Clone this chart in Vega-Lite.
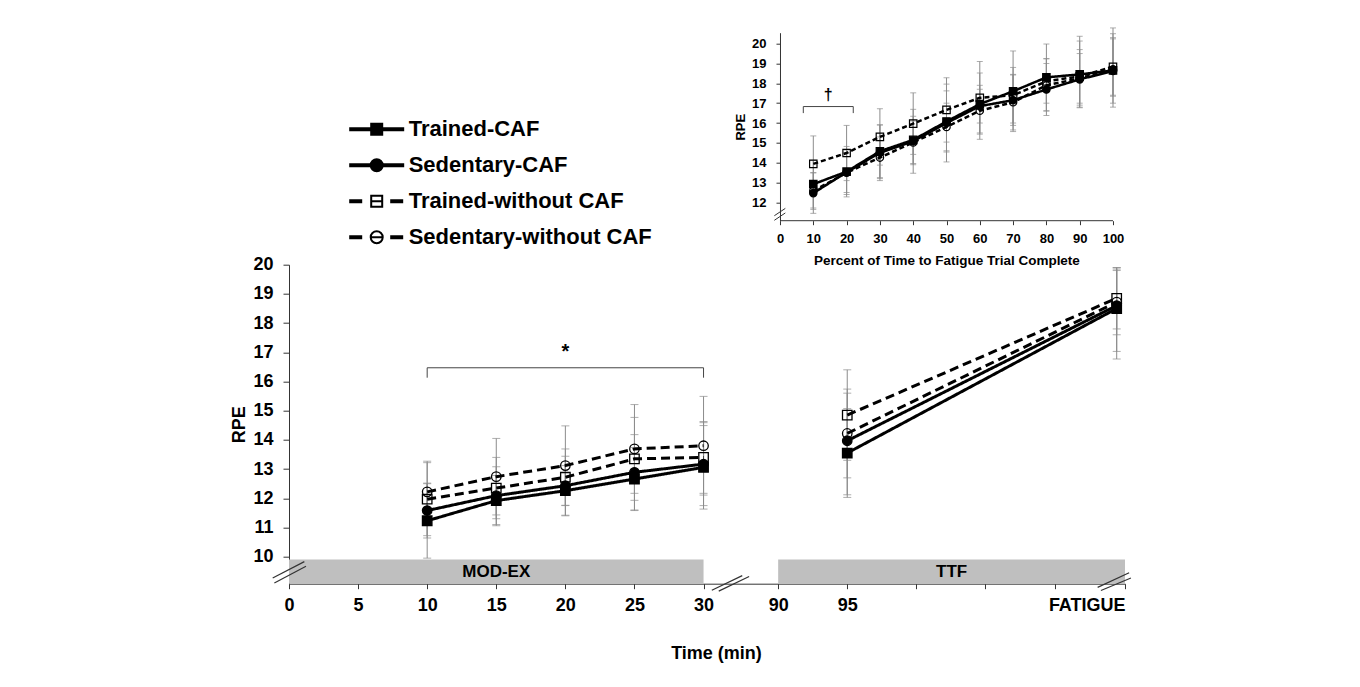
{
  "$schema": "https://vega.github.io/schema/vega-lite/v6.json",
  "padding": {"left": 230, "top": 26.7, "right": 5, "bottom": 5},
  "background": "white",
  "config": {
    "view": {"stroke": null},
    "axis": {"domainColor": "#333333", "tickColor": "#333333", "labelColor": "#000000", "titleColor": "#000000", "labelFont": "Liberation Sans", "titleFont": "Liberation Sans", "labelFontWeight": "bold", "titleFontWeight": "bold", "grid": false, "domainWidth": 1, "tickWidth": 1},
    "text": {"font": "Liberation Sans"}
  },
  "datasets": {
    "series": [
      {"series": "Trained-CAF"}, {"series": "Sedentary-CAF"}, {"series": "Trained-without CAF"}, {"series": "Sedentary-without CAF"}
    ],
    "bands": [
      {"label": "MOD-EX", "start": 0, "end": 30},
      {"label": "TTF", "start": 35.4, "end": 60.5}
    ],
    "main": [
      {"series": "Trained-CAF", "phase": "MOD-EX", "time": "10", "t": 10, "rpe": 11.23, "lo": 9.95, "hi": 12.5},
      {"series": "Trained-CAF", "phase": "MOD-EX", "time": "15", "t": 15, "rpe": 11.92, "lo": 11.06, "hi": 12.78},
      {"series": "Trained-CAF", "phase": "MOD-EX", "time": "20", "t": 20, "rpe": 12.26, "lo": 11.4, "hi": 13.12},
      {"series": "Trained-CAF", "phase": "MOD-EX", "time": "25", "t": 25, "rpe": 12.66, "lo": 11.58, "hi": 13.74},
      {"series": "Trained-CAF", "phase": "MOD-EX", "time": "30", "t": 30, "rpe": 13.06, "lo": 11.63, "hi": 14.49},
      {"series": "Trained-CAF", "phase": "TTF", "time": "95", "t": 40.4, "rpe": 13.55, "lo": 12.03, "hi": 15.07},
      {"series": "Trained-CAF", "phase": "TTF", "time": "FATIGUE", "t": 59.9, "rpe": 18.5, "lo": 16.77, "hi": 19.9},
      {"series": "Sedentary-CAF", "phase": "MOD-EX", "time": "10", "t": 10, "rpe": 11.58, "lo": 10.64, "hi": 12.52},
      {"series": "Sedentary-CAF", "phase": "MOD-EX", "time": "15", "t": 15, "rpe": 12.09, "lo": 11.1, "hi": 13.08},
      {"series": "Sedentary-CAF", "phase": "MOD-EX", "time": "20", "t": 20, "rpe": 12.43, "lo": 11.42, "hi": 13.44},
      {"series": "Sedentary-CAF", "phase": "MOD-EX", "time": "25", "t": 25, "rpe": 12.89, "lo": 11.6, "hi": 14.18},
      {"series": "Sedentary-CAF", "phase": "MOD-EX", "time": "30", "t": 30, "rpe": 13.17, "lo": 11.75, "hi": 14.59},
      {"series": "Sedentary-CAF", "phase": "TTF", "time": "95", "t": 40.4, "rpe": 13.97, "lo": 12.12, "hi": 15.6},
      {"series": "Sedentary-CAF", "phase": "TTF", "time": "FATIGUE", "t": 59.9, "rpe": 18.6, "lo": 17.03, "hi": 19.8},
      {"series": "Trained-without CAF", "phase": "MOD-EX", "time": "10", "t": 10, "rpe": 11.97, "lo": 10.72, "hi": 13.22},
      {"series": "Trained-without CAF", "phase": "MOD-EX", "time": "15", "t": 15, "rpe": 12.35, "lo": 11.3, "hi": 13.4},
      {"series": "Trained-without CAF", "phase": "MOD-EX", "time": "20", "t": 20, "rpe": 12.72, "lo": 11.75, "hi": 13.69},
      {"series": "Trained-without CAF", "phase": "MOD-EX", "time": "25", "t": 25, "rpe": 13.35, "lo": 11.93, "hi": 14.77},
      {"series": "Trained-without CAF", "phase": "MOD-EX", "time": "30", "t": 30, "rpe": 13.4, "lo": 12.17, "hi": 14.63},
      {"series": "Trained-without CAF", "phase": "TTF", "time": "95", "t": 40.4, "rpe": 14.85, "lo": 13.3, "hi": 16.4},
      {"series": "Trained-without CAF", "phase": "TTF", "time": "FATIGUE", "t": 59.9, "rpe": 18.85, "lo": 17.8, "hi": 19.9},
      {"series": "Sedentary-without CAF", "phase": "MOD-EX", "time": "10", "t": 10, "rpe": 12.22, "lo": 11.2, "hi": 13.27},
      {"series": "Sedentary-without CAF", "phase": "MOD-EX", "time": "15", "t": 15, "rpe": 12.74, "lo": 11.43, "hi": 14.05},
      {"series": "Sedentary-without CAF", "phase": "MOD-EX", "time": "20", "t": 20, "rpe": 13.12, "lo": 11.76, "hi": 14.48},
      {"series": "Sedentary-without CAF", "phase": "MOD-EX", "time": "25", "t": 25, "rpe": 13.69, "lo": 12.17, "hi": 15.21},
      {"series": "Sedentary-without CAF", "phase": "MOD-EX", "time": "30", "t": 30, "rpe": 13.8, "lo": 12.11, "hi": 15.49},
      {"series": "Sedentary-without CAF", "phase": "TTF", "time": "95", "t": 40.4, "rpe": 14.22, "lo": 12.7, "hi": 15.74},
      {"series": "Sedentary-without CAF", "phase": "TTF", "time": "FATIGUE", "t": 59.9, "rpe": 18.72, "lo": 17.6, "hi": 19.85}
    ],
    "inset": [
      {"series": "Trained-CAF", "pct": 10, "rpe": 12.92, "lo": 11.72, "hi": 14.12},
      {"series": "Trained-CAF", "pct": 20, "rpe": 13.55, "lo": 12.28, "hi": 14.82},
      {"series": "Trained-CAF", "pct": 30, "rpe": 14.58, "lo": 13.25, "hi": 15.91},
      {"series": "Trained-CAF", "pct": 40, "rpe": 15.15, "lo": 13.96, "hi": 16.34},
      {"series": "Trained-CAF", "pct": 50, "rpe": 16.08, "lo": 14.54, "hi": 17.62},
      {"series": "Trained-CAF", "pct": 60, "rpe": 16.95, "lo": 16.0, "hi": 17.9},
      {"series": "Trained-CAF", "pct": 70, "rpe": 17.6, "lo": 15.57, "hi": 19.63},
      {"series": "Trained-CAF", "pct": 80, "rpe": 18.3, "lo": 16.62, "hi": 19.98},
      {"series": "Trained-CAF", "pct": 90, "rpe": 18.45, "lo": 16.77, "hi": 20.13},
      {"series": "Trained-CAF", "pct": 100, "rpe": 18.65, "lo": 16.8, "hi": 20.5},
      {"series": "Sedentary-CAF", "pct": 10, "rpe": 12.47, "lo": 11.45, "hi": 13.49},
      {"series": "Sedentary-CAF", "pct": 20, "rpe": 13.52, "lo": 12.4, "hi": 14.64},
      {"series": "Sedentary-CAF", "pct": 30, "rpe": 14.5, "lo": 13.1, "hi": 15.9},
      {"series": "Sedentary-CAF", "pct": 40, "rpe": 15.08, "lo": 13.47, "hi": 16.69},
      {"series": "Sedentary-CAF", "pct": 50, "rpe": 16.0, "lo": 14.04, "hi": 17.96},
      {"series": "Sedentary-CAF", "pct": 60, "rpe": 16.85, "lo": 15.18, "hi": 18.52},
      {"series": "Sedentary-CAF", "pct": 70, "rpe": 17.15, "lo": 15.88, "hi": 18.42},
      {"series": "Sedentary-CAF", "pct": 80, "rpe": 17.69, "lo": 16.38, "hi": 19.0},
      {"series": "Sedentary-CAF", "pct": 90, "rpe": 18.2, "lo": 16.9, "hi": 19.5},
      {"series": "Sedentary-CAF", "pct": 100, "rpe": 18.62, "lo": 17.0, "hi": 20.24},
      {"series": "Trained-without CAF", "pct": 10, "rpe": 13.94, "lo": 12.53, "hi": 15.35},
      {"series": "Trained-without CAF", "pct": 20, "rpe": 14.49, "lo": 13.1, "hi": 15.88},
      {"series": "Trained-without CAF", "pct": 30, "rpe": 15.3, "lo": 13.88, "hi": 16.72},
      {"series": "Trained-without CAF", "pct": 40, "rpe": 15.97, "lo": 14.42, "hi": 17.52},
      {"series": "Trained-without CAF", "pct": 50, "rpe": 16.66, "lo": 15.04, "hi": 18.28},
      {"series": "Trained-without CAF", "pct": 60, "rpe": 17.27, "lo": 15.44, "hi": 19.1},
      {"series": "Trained-without CAF", "pct": 70, "rpe": 17.4, "lo": 16.0, "hi": 18.8},
      {"series": "Trained-without CAF", "pct": 80, "rpe": 18.1, "lo": 17.0, "hi": 19.24},
      {"series": "Trained-without CAF", "pct": 90, "rpe": 18.35, "lo": 17.0, "hi": 19.7},
      {"series": "Trained-without CAF", "pct": 100, "rpe": 18.83, "lo": 17.35, "hi": 20.3},
      {"series": "Sedentary-without CAF", "pct": 10, "rpe": 12.58, "lo": 11.65, "hi": 13.5},
      {"series": "Sedentary-without CAF", "pct": 20, "rpe": 13.5, "lo": 12.5, "hi": 14.5},
      {"series": "Sedentary-without CAF", "pct": 30, "rpe": 14.26, "lo": 13.2, "hi": 15.3},
      {"series": "Sedentary-without CAF", "pct": 40, "rpe": 15.02, "lo": 13.9, "hi": 16.1},
      {"series": "Sedentary-without CAF", "pct": 50, "rpe": 15.8, "lo": 14.6, "hi": 17.0},
      {"series": "Sedentary-without CAF", "pct": 60, "rpe": 16.62, "lo": 15.5, "hi": 17.7},
      {"series": "Sedentary-without CAF", "pct": 70, "rpe": 17.05, "lo": 15.65, "hi": 18.45},
      {"series": "Sedentary-without CAF", "pct": 80, "rpe": 17.9, "lo": 16.6, "hi": 19.24},
      {"series": "Sedentary-without CAF", "pct": 90, "rpe": 18.25, "lo": 16.8, "hi": 20.37},
      {"series": "Sedentary-without CAF", "pct": 100, "rpe": 18.7, "lo": 17.4, "hi": 20.79}
    ]
  },
  "resolve": {
    "scale": {"shape": "independent", "fill": "independent", "strokeDash": "independent"},
    "legend": {"shape": "independent", "fill": "independent", "strokeDash": "independent"}
  },
  "bounds": "flush",
  "spacing": 44,
  "vconcat": [
    {
      "width": 824,
      "height": 188,
      "resolve": {
        "scale": {"shape": "independent", "fill": "independent"},
        "legend": {"shape": "independent", "fill": "independent"}
      },
      "layer": [
        {
          "data": {"values": [{}]},
          "mark": {"type": "rule", "color": "#333333", "strokeWidth": 1},
          "encoding": {
            "x": {
              "datum": 0, "type": "quantitative", "title": "Percent of Time to Fatigue Trial Complete",
              "scale": {"domain": [-147.45, 100], "nice": false, "zero": false},
              "axis": {"values": [0, 10, 20, 30, 40, 50, 60, 70, 80, 90, 100], "domain": false, "tickSize": 4, "labelPadding": 8, "labelFontSize": 13, "titleFontSize": 13.5, "titlePadding": 8, "titleX": 657.5, "labelFlush": false, "labelOverlap": false}
            },
            "x2": {"datum": 100},
            "y": {
              "datum": 11.08, "type": "quantitative", "title": "RPE",
              "scale": {"domain": [11.08, 20.55], "nice": false, "zero": false},
              "axis": {"values": [12, 13, 14, 15, 16, 17, 18, 19, 20], "tickCount": 9, "offset": -491, "tickSize": 4, "labelPadding": 10, "labelFontSize": 13, "titleFontSize": 13, "titlePadding": 4, "labelOverlap": false}
            }
          }
        },
        {
          "data": {"name": "inset"},
          "mark": {"type": "rule", "color": "#8c8c8c", "strokeWidth": 1},
          "encoding": {
            "x": {"field": "pct", "type": "quantitative", "title": "Percent of Time to Fatigue Trial Complete"},
            "y": {"field": "lo", "type": "quantitative", "title": "RPE"},
            "y2": {"field": "hi"}
          }
        },
        {
          "data": {"name": "inset"},
          "transform": [{"fold": ["lo", "hi"], "as": ["bound", "val"]}],
          "mark": {"type": "tick", "orient": "horizontal", "size": 6, "thickness": 1, "color": "#8c8c8c"},
          "encoding": {
            "x": {"field": "pct", "type": "quantitative", "title": "Percent of Time to Fatigue Trial Complete"},
            "y": {"field": "val", "type": "quantitative", "title": "RPE"}
          }
        },
        {
          "data": {"name": "inset"},
          "mark": {"type": "line", "color": "#000000", "strokeWidth": 2.5},
          "encoding": {
            "x": {"field": "pct", "type": "quantitative", "title": "Percent of Time to Fatigue Trial Complete"},
            "y": {"field": "rpe", "type": "quantitative", "title": "RPE"},
            "strokeDash": {
              "field": "series", "type": "nominal",
              "scale": {"domain": ["Trained-CAF", "Sedentary-CAF", "Trained-without CAF", "Sedentary-without CAF"], "range": [[1, 0], [1, 0], [5, 3], [5, 3]]},
              "legend": null
            }
          }
        },
        {
          "data": {"name": "inset"},
          "mark": {"type": "point", "filled": true, "size": 55, "stroke": "#000000", "strokeWidth": 1.2, "opacity": 1},
          "encoding": {
            "x": {"field": "pct", "type": "quantitative", "title": "Percent of Time to Fatigue Trial Complete"},
            "y": {"field": "rpe", "type": "quantitative", "title": "RPE"},
            "shape": {
              "field": "series", "type": "nominal",
              "scale": {"domain": ["Trained-CAF", "Sedentary-CAF", "Trained-without CAF", "Sedentary-without CAF"], "range": ["square", "circle", "square", "circle"]},
              "legend": null
            },
            "fill": {
              "field": "series", "type": "nominal",
              "scale": {"domain": ["Trained-CAF", "Sedentary-CAF", "Trained-without CAF", "Sedentary-without CAF"], "range": ["#000000", "#000000", "transparent", "transparent"]},
              "legend": null
            }
          }
        },
        {
          "data": {"values": [{"from": 7, "to": 22, "sig": "†"}]},
          "mark": {"type": "rule", "color": "#444444", "strokeWidth": 1},
          "encoding": {"x": {"field": "from", "type": "quantitative"}, "x2": {"field": "to"}, "y": {"datum": 16.83}}
        },
        {
          "data": {"values": [{"from": 7, "to": 22, "sig": "†"}]},
          "mark": {"type": "rule", "color": "#444444", "strokeWidth": 1},
          "encoding": {"x": {"field": "from", "type": "quantitative"}, "y": {"datum": 16.5}, "y2": {"datum": 16.83}}
        },
        {
          "data": {"values": [{"from": 7, "to": 22, "sig": "†"}]},
          "mark": {"type": "rule", "color": "#444444", "strokeWidth": 1},
          "encoding": {"x": {"field": "to", "type": "quantitative"}, "y": {"datum": 16.5}, "y2": {"datum": 16.83}}
        },
        {
          "data": {"values": [{"from": 7, "to": 22, "sig": "†"}]},
          "transform": [{"fold": ["from", "to"], "as": ["edge", "v"]}],
          "mark": {"type": "text", "fontSize": 16, "fontWeight": "bold", "color": "#000000", "baseline": "middle"},
          "encoding": {"x": {"aggregate": "mean", "field": "v", "type": "quantitative"}, "y": {"datum": 17.4}, "text": {"field": "sig", "type": "nominal"}}
        },
        {
          "data": {"values": [{}]},
          "mark": {"type": "rule", "color": "#333333", "strokeWidth": 1},
          "encoding": {"x": {"datum": -1.7}, "x2": {"datum": 1.6}, "y": {"datum": 11.33}, "y2": {"datum": 11.7}}
        },
        {
          "data": {"values": [{}]},
          "mark": {"type": "rule", "color": "#333333", "strokeWidth": 1},
          "encoding": {"x": {"datum": -1.7}, "x2": {"datum": 1.6}, "y": {"datum": 11.1}, "y2": {"datum": 11.47}}
        },
        {
          "data": {"name": "series"},
          "mark": {"type": "point", "filled": true, "opacity": 0},
          "encoding": {
            "shape": {
              "field": "series",
              "type": "nominal",
              "scale": {
                "domain": ["Trained-CAF", "Sedentary-CAF", "Trained-without CAF", "Sedentary-without CAF"],
                "range": [
                  "M-2.65,-0.1H2.65V0.1H-2.65Z M-0.55,-0.55H0.55V0.55H-0.55Z",
                  "M-2.65,-0.1H2.65V0.1H-2.65Z M-0.6,0A0.6,0.6,0,1,0,0.6,0A0.6,0.6,0,1,0,-0.6,0Z",
                  "M-2.65,-0.1H-1.55V0.1H-2.65Z M1.45,-0.1H2.55V0.1H1.45Z M-0.55,-0.55H0.55V0.55H-0.55Z M-0.55,0H0.55",
                  "M-2.65,-0.1H-1.55V0.1H-2.65Z M1.45,-0.1H2.55V0.1H1.45Z M-0.6,0A0.6,0.6,0,1,0,0.6,0A0.6,0.6,0,1,0,-0.6,0Z M-0.6,0H0.6"
                ]
              },
              "legend": {
                "orient": "none",
                "legendX": 76.7,
                "legendY": 85.5,
                "title": null,
                "padding": 0,
                "labelFont": "Liberation Sans",
                "labelFontSize": 22,
                "labelFontWeight": "bold",
                "labelColor": "#000000",
                "labelOffset": 21,
                "labelLimit": 500,
                "rowPadding": 14,
                "symbolSize": 400,
                "symbolStrokeWidth": 2,
                "symbolStrokeColor": "#000000",
                "symbolOpacity": 1,
                "encode": {
                  "symbols": {
                    "update": {
                      "stroke": {"value": "#000000"},
                      "strokeWidth": {"value": 2},
                      "opacity": {"value": 1}
                    }
                  }
                }
              }
            },
            "fill": {
              "field": "series",
              "type": "nominal",
              "scale": {"domain": ["Trained-CAF", "Sedentary-CAF", "Trained-without CAF", "Sedentary-without CAF"], "range": ["#000000", "#000000", "transparent", "transparent"]},
              "legend": {
                "orient": "none",
                "legendX": 76.7,
                "legendY": 85.5,
                "title": null,
                "padding": 0,
                "labelFont": "Liberation Sans",
                "labelFontSize": 22,
                "labelFontWeight": "bold",
                "labelColor": "#000000",
                "labelOffset": 21,
                "labelLimit": 500,
                "rowPadding": 14,
                "symbolSize": 400,
                "symbolStrokeWidth": 2,
                "symbolStrokeColor": "#000000",
                "symbolOpacity": 1,
                "encode": {
                  "symbols": {
                    "update": {
                      "stroke": {"value": "#000000"},
                      "strokeWidth": {"value": 2},
                      "opacity": {"value": 1}
                    }
                  }
                }
              }
            }
          }
        }
      ]
    },
    {
      "width": 836,
      "height": 319,
      "layer": [
        {
          "data": {"name": "bands"},
          "mark": {"type": "rect", "color": "#bfbfbf"},
          "encoding": {
            "x": {
              "field": "start", "type": "quantitative", "title": "Time (min)",
              "scale": {"domain": [0, 60.5], "nice": false, "zero": false},
              "axis": {
                "values": [0, 5, 10, 15, 20, 25, 30, 35.4, 40.4, 45.4, 50.4, 55.4, 60.5],
                "labelExpr": "datum.value <= 30 ? datum.label : (datum.value == 35.4 ? '90' : (datum.value == 40.4 ? '95' : (datum.value > 60 ? 'FATIGUE' : '')))",
                "labelAlign": {"condition": {"test": "datum.value > 60", "value": "right"}, "value": "center"},
                "tickSize": 5, "labelPadding": 8, "labelFontSize": 18, "titleFontSize": 18, "titlePadding": 30, "titleX": 427,
                "labelFlush": false, "labelOverlap": false, "labelBound": false
              }
            },
            "x2": {"field": "end"},
            "y": {
              "datum": 9.9, "type": "quantitative", "title": "RPE",
              "scale": {"domain": [9.075, 20], "nice": false, "zero": false},
              "axis": {"values": [10, 11, 12, 13, 14, 15, 16, 17, 18, 19, 20], "tickCount": 11, "tickSize": 6, "labelPadding": 10, "labelFontSize": 18, "titleFontSize": 18, "titlePadding": 4, "labelOverlap": false}
            },
            "y2": {"datum": 9.075}
          }
        },
        {
          "data": {"name": "bands"},
          "transform": [{"fold": ["start", "end"], "as": ["edge", "v"]}],
          "mark": {"type": "text", "fontSize": 17, "fontWeight": "bold", "color": "#000000", "baseline": "middle"},
          "encoding": {
            "x": {"aggregate": "mean", "field": "v", "type": "quantitative", "title": "Time (min)"},
            "y": {"datum": 9.49, "type": "quantitative", "title": "RPE"},
            "text": {"field": "label", "type": "nominal"}
          }
        },
        {
          "data": {"name": "main"},
          "mark": {"type": "rule", "color": "#8c8c8c", "strokeWidth": 1},
          "encoding": {
            "x": {"field": "t", "type": "quantitative", "title": "Time (min)"},
            "y": {"field": "lo", "type": "quantitative", "title": "RPE"},
            "y2": {"field": "hi"}
          }
        },
        {
          "data": {"name": "main"},
          "transform": [{"fold": ["lo", "hi"], "as": ["bound", "val"]}],
          "mark": {"type": "tick", "orient": "horizontal", "size": 8, "thickness": 1, "color": "#8c8c8c"},
          "encoding": {
            "x": {"field": "t", "type": "quantitative", "title": "Time (min)"},
            "y": {"field": "val", "type": "quantitative", "title": "RPE"}
          }
        },
        {
          "data": {"name": "main"},
          "mark": {"type": "line", "color": "#000000", "strokeWidth": 3},
          "encoding": {
            "x": {"field": "t", "type": "quantitative", "title": "Time (min)"},
            "y": {"field": "rpe", "type": "quantitative", "title": "RPE"},
            "strokeDash": {
              "field": "series", "type": "nominal",
              "scale": {"domain": ["Trained-CAF", "Sedentary-CAF", "Trained-without CAF", "Sedentary-without CAF"], "range": [[1, 0], [1, 0], [9, 5], [9, 5]]},
              "legend": null
            },
            "detail": {"field": "phase", "type": "nominal"}
          }
        },
        {
          "data": {"name": "main"},
          "mark": {"type": "point", "filled": true, "size": 90, "stroke": "#000000", "strokeWidth": 1.3, "opacity": 1},
          "encoding": {
            "x": {"field": "t", "type": "quantitative", "title": "Time (min)"},
            "y": {"field": "rpe", "type": "quantitative", "title": "RPE"},
            "shape": {
              "field": "series", "type": "nominal",
              "scale": {"domain": ["Trained-CAF", "Sedentary-CAF", "Trained-without CAF", "Sedentary-without CAF"], "range": ["square", "circle", "square", "circle"]},
              "legend": null
            },
            "fill": {
              "field": "series", "type": "nominal",
              "scale": {"domain": ["Trained-CAF", "Sedentary-CAF", "Trained-without CAF", "Sedentary-without CAF"], "range": ["#000000", "#000000", "transparent", "transparent"]},
              "legend": null
            }
          }
        },
        {
          "data": {"values": [{"from": 10, "to": 30, "sig": "*"}]},
          "mark": {"type": "rule", "color": "#444444", "strokeWidth": 1},
          "encoding": {"x": {"field": "from", "type": "quantitative"}, "x2": {"field": "to"}, "y": {"datum": 16.47}}
        },
        {
          "data": {"values": [{"from": 10, "to": 30, "sig": "*"}]},
          "mark": {"type": "rule", "color": "#444444", "strokeWidth": 1},
          "encoding": {"x": {"field": "from", "type": "quantitative"}, "y": {"datum": 16.13}, "y2": {"datum": 16.47}}
        },
        {
          "data": {"values": [{"from": 10, "to": 30, "sig": "*"}]},
          "mark": {"type": "rule", "color": "#444444", "strokeWidth": 1},
          "encoding": {"x": {"field": "to", "type": "quantitative"}, "y": {"datum": 16.13}, "y2": {"datum": 16.47}}
        },
        {
          "data": {"values": [{"from": 10, "to": 30, "sig": "*"}]},
          "transform": [{"fold": ["from", "to"], "as": ["edge", "v"]}],
          "mark": {"type": "text", "fontSize": 20, "fontWeight": "bold", "color": "#000000", "baseline": "middle"},
          "encoding": {"x": {"aggregate": "mean", "field": "v", "type": "quantitative"}, "y": {"datum": 17.0}, "text": {"field": "sig", "type": "nominal"}}
        },
        {
          "data": {"values": [{}]},
          "mark": {"type": "rule", "color": "#333333", "strokeWidth": 1.2},
          "encoding": {"x": {"datum": -1.18}, "x2": {"datum": 1.11}, "y": {"datum": 9.27}, "y2": {"datum": 9.83}}
        },
        {
          "data": {"values": [{}]},
          "mark": {"type": "rule", "color": "#333333", "strokeWidth": 1.2},
          "encoding": {"x": {"datum": -1.06}, "x2": {"datum": 1.23}, "y": {"datum": 9.1}, "y2": {"datum": 9.67}}
        },
        {
          "data": {"values": [{}]},
          "mark": {"type": "rule", "color": "#333333", "strokeWidth": 1.2},
          "encoding": {"x": {"datum": 30.6}, "x2": {"datum": 32.8}, "y": {"datum": 8.85}, "y2": {"datum": 9.35}}
        },
        {
          "data": {"values": [{}]},
          "mark": {"type": "rule", "color": "#333333", "strokeWidth": 1.2},
          "encoding": {"x": {"datum": 31.1}, "x2": {"datum": 33.3}, "y": {"datum": 8.82}, "y2": {"datum": 9.32}}
        },
        {
          "data": {"values": [{}]},
          "mark": {"type": "rule", "color": "#333333", "strokeWidth": 1.2},
          "encoding": {"x": {"datum": 58.52}, "x2": {"datum": 60.8}, "y": {"datum": 8.95}, "y2": {"datum": 9.45}}
        },
        {
          "data": {"values": [{}]},
          "mark": {"type": "rule", "color": "#333333", "strokeWidth": 1.2},
          "encoding": {"x": {"datum": 58.76}, "x2": {"datum": 60.93}, "y": {"datum": 8.84}, "y2": {"datum": 9.27}}
        }
      ]
    }
  ]
}
